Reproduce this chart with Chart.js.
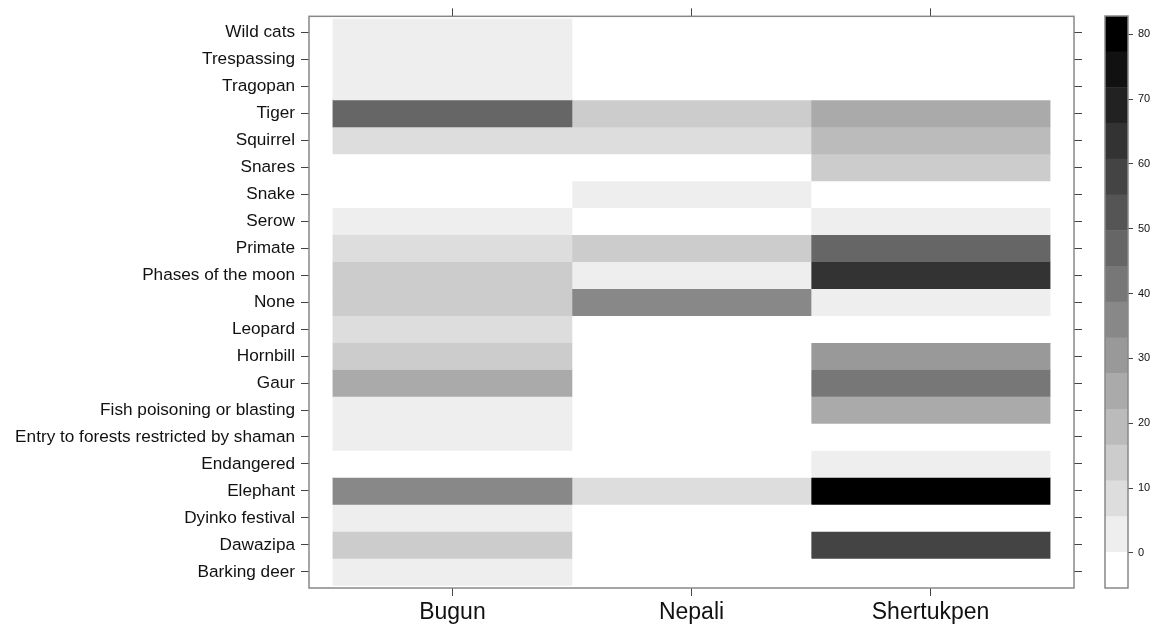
<!DOCTYPE html>
<html>
<head>
<meta charset="utf-8">
<script src="https://cdn.jsdelivr.net/npm/chart.js@4.4.0/dist/chart.umd.min.js"></script>
<style>
html,body{margin:0;padding:0;background:#fff;width:1157px;height:628px;overflow:hidden}
#main{position:absolute;left:0;top:0}
#key{position:absolute;left:1090px;top:0}
</style>
</head>
<body>
<canvas id="main" width="1090" height="628"></canvas>
<canvas id="key" width="67" height="628"></canvas>
<script>
// ---- data (rows listed bottom to top, as on the y axis) ----
const groups = ['Bugun', 'Nepali', 'Shertukpen'];
const rows = ['Barking deer', 'Dawazipa', 'Dyinko festival', 'Elephant', 'Endangered',
  'Entry to forests restricted by shaman', 'Fish poisoning or blasting', 'Gaur', 'Hornbill',
  'Leopard', 'None', 'Phases of the moon', 'Primate', 'Serow', 'Snake', 'Snares', 'Squirrel',
  'Tiger', 'Tragopan', 'Trespassing', 'Wild cats'];
const bugun      = [3, 14, 3, 36, 0, 3, 3, 25, 14, 8, 14, 14, 8, 3, 0, 0, 8, 47, 3, 3, 3];
const nepali     = [0, 0, 0, 8, 0, 0, 0, 0, 0, 0, 36, 3, 14, 0, 3, 0, 8, 14, 0, 0, 0];
const shertukpen = [0, 58, 0, 77.4, 3, 0, 25, 41, 30, 0, 3, 63, 47, 3, 0, 14, 19, 25, 0, 0, 0];
const keyTicks = [0, 10, 20, 30, 40, 50, 60, 70, 80];

// ---- colour key (16 grey bands over the extended data range) ----
const nBands = 16;
const series = [bugun, nepali, shertukpen];
const all = [].concat(...series);
const dmin = Math.min(...all), dmax = Math.max(...all);
const ext = 0.07 * (dmax - dmin);
const lo = dmin - ext, hi = dmax + ext;
const bw = (hi - lo) / nBands;
const breaks = Array.from({length: nBands + 1}, (_, k) => lo + k * bw);
const palette = Array.from({length: nBands}, (_, k) => { const g = 255 - 17 * k; return `rgb(${g},${g},${g})`; });
function colorFor(v) {
  let k = Math.floor((v - lo) / bw);
  k = Math.max(0, Math.min(nBands - 1, k));
  return palette[k];
}

// ---- styles ----
const FAMILY = '"Liberation Sans", Arial, Helvetica, sans-serif';
const TEXT = '#111';
const TICK = '#444';
const BOX = '#888';

const boxPlugin = {
  id: 'box',
  afterDatasetsDraw(chart) {
    const {ctx, chartArea: a} = chart;
    ctx.save();
    ctx.strokeStyle = BOX;
    ctx.lineWidth = 1.5;
    ctx.strokeRect(a.left, a.top, a.right - a.left, a.bottom - a.top);
    ctx.restore();
  }
};

function gridOpts(len) {
  return {offset: false, drawOnChartArea: false, drawTicks: true, tickLength: len, tickColor: TICK, tickWidth: 1};
}
const rowTicks = s => { s.ticks = rows.map((_, i) => ({value: i + 1})); };
const colTicks = s => { s.ticks = groups.map((_, i) => ({value: i + 1})); };

new Chart(document.getElementById('main'), {
  type: 'bar',
  data: {
    datasets: series.map((vals, c) => ({
      label: groups[c],
      data: vals.map((v, i) => ({y: i + 1, x: [c + 0.5, c + 1.5]})),
      backgroundColor: vals.map(colorFor),
      borderWidth: 0,
      barPercentage: 1,
      categoryPercentage: 1,
      grouped: false,
      xAxisID: 'x',
      yAxisID: 'y'
    }))
  },
  options: {
    indexAxis: 'y',
    responsive: false,
    animation: false,
    layout: {padding: 0},
    plugins: {legend: {display: false}, tooltip: {enabled: false}},
    scales: {
      x: {
        type: 'linear', position: 'bottom', offset: false, min: 0.4, max: groups.length + 0.6,
        afterBuildTicks: colTicks,
        afterFit: s => { s.height = 40; },
        ticks: {autoSkip: false, maxRotation: 0, padding: 3, color: TEXT,
          font: {family: FAMILY, size: 23},
          callback: v => groups[Math.round(v) - 1]},
        grid: gridOpts(8), border: {display: false}
      },
      x2: {
        type: 'linear', position: 'top', offset: false, min: 0.4, max: groups.length + 0.6,
        afterBuildTicks: colTicks,
        afterFit: s => { s.height = 16; },
        ticks: {display: false},
        grid: gridOpts(8), border: {display: false}
      },
      y: {
        type: 'linear', position: 'left', offset: false, min: 0.4, max: rows.length + 0.6,
        afterBuildTicks: rowTicks,
        afterFit: s => { s.width = 309; },
        ticks: {autoSkip: false, padding: 6, color: TEXT,
          font: {family: FAMILY, size: 17.2},
          callback: v => rows[Math.round(v) - 1]},
        grid: gridOpts(8), border: {display: false}
      },
      y2: {
        type: 'linear', position: 'right', offset: false, min: 0.4, max: rows.length + 0.6,
        afterBuildTicks: rowTicks,
        afterFit: s => { s.width = 16; },
        ticks: {display: false},
        grid: gridOpts(8), border: {display: false}
      }
    }
  },
  plugins: [boxPlugin]
});

new Chart(document.getElementById('key'), {
  type: 'bar',
  data: {
    labels: [''],
    datasets: palette.map((col, k) => ({
      data: [[breaks[k], breaks[k + 1]]],
      backgroundColor: col,
      borderWidth: 0,
      barPercentage: 1,
      categoryPercentage: 1,
      grouped: false
    }))
  },
  options: {
    responsive: false,
    animation: false,
    layout: {padding: {left: 15, top: 16, bottom: 40, right: 0}},
    plugins: {legend: {display: false}, tooltip: {enabled: false}},
    scales: {
      x: {display: false},
      y: {
        type: 'linear', position: 'right', min: lo, max: hi,
        afterBuildTicks: s => { s.ticks = keyTicks.map(v => ({value: v})); },
        afterFit: s => { s.width = 29; },
        ticks: {padding: 5, color: TEXT, font: {family: FAMILY, size: 11}},
        grid: gridOpts(5), border: {display: false}
      }
    }
  },
  plugins: [boxPlugin]
});
</script>
</body>
</html>
